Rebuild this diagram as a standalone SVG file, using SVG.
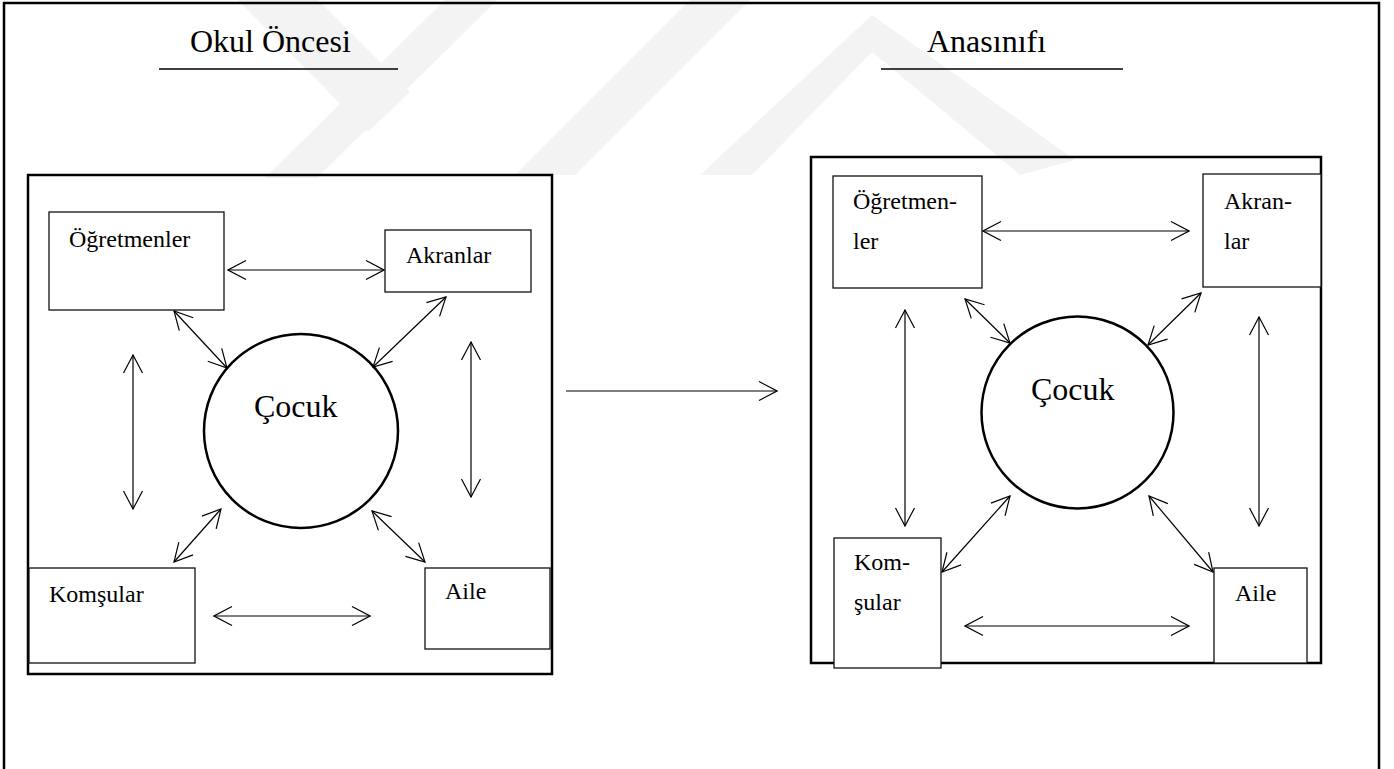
<svg xmlns="http://www.w3.org/2000/svg" width="1394" height="769" viewBox="0 0 1394 769">
<style>
.frame{fill:none;stroke:#000;stroke-width:2.5}
.panel{fill:none;stroke:#000;stroke-width:2.5}
.box{fill:#fff;stroke:#111;stroke-width:1.3}
.child{fill:#fff;stroke:#000;stroke-width:2.5}
.conn{fill:none;stroke:#000;stroke-width:1.2}
.wm{fill:#f3f3f3}
</style>
<defs>
<marker id="ah" viewBox="-1 -11 20 22" refX="18" refY="0" markerWidth="20" markerHeight="22" markerUnits="userSpaceOnUse" orient="auto-start-reverse">
<path d="M0,-9.5 L18,0 L0,9.5" fill="none" stroke="#000" stroke-width="1.2"/>
</marker>
</defs>
<rect width="1394" height="769" fill="#fff"/>
<g id="watermark">
<polygon class="wm" points="238,0 318,0 410,92 368,132"/>
<polygon class="wm" points="445,0 497,0 317,178 265,178"/>
<polygon class="wm" points="690,0 750,0 575,175 515,175"/>
<polygon class="wm" points="700,175 752,175 872,52 1020,175 1075,160 872,15"/>
</g>
<rect class="frame" x="4" y="3" width="1375" height="800"/>
<g font-family="'Liberation Serif', 'DejaVu Serif', serif" fill="#000">
<g id="titles" font-size="32">
<text x="190" y="52">Okul Öncesi</text>
<line x1="159" y1="69" x2="398" y2="69" stroke="#000" stroke-width="1.3"/>
<text x="927" y="52">Anasınıfı</text>
<line x1="881" y1="69" x2="1123" y2="69" stroke="#000" stroke-width="1.3"/>
</g>
<g id="panel-left">
<rect class="panel" x="28" y="175" width="524" height="499"/>
</g>
<g id="panel-right">
<rect class="panel" x="811" y="157" width="510" height="506"/>
</g>
<g font-size="24">
<g id="left-ogretmenler"><rect class="box" x="49" y="212" width="175" height="98"/><text x="69" y="247">Öğretmenler</text></g>
<g id="left-akranlar"><rect class="box" x="385" y="230" width="146" height="62"/><text x="406" y="263">Akranlar</text></g>
<g id="left-komsular"><rect class="box" x="29" y="568" width="166" height="95"/><text x="49" y="602">Komşular</text></g>
<g id="left-aile"><rect class="box" x="425" y="568" width="125" height="81"/><text x="445" y="599">Aile</text></g>
<g id="right-ogretmenler"><rect class="box" x="833" y="176" width="149" height="112"/><text x="853" y="209">Öğretmen-</text><text x="853" y="249">ler</text></g>
<g id="right-akranlar"><rect class="box" x="1203" y="174" width="118" height="113"/><text x="1224" y="209">Akran-</text><text x="1224" y="249">lar</text></g>
<g id="right-komsular"><rect class="box" x="834" y="538" width="107" height="130"/><text x="854" y="570">Kom-</text><text x="854" y="610">şular</text></g>
<g id="right-aile"><rect class="box" x="1214" y="568" width="93" height="95"/><text x="1235" y="601">Aile</text></g>
</g>
<g font-size="32">
<g id="left-cocuk"><circle class="child" cx="301" cy="431" r="97"/><text x="254" y="417">Çocuk</text></g>
<g id="right-cocuk"><circle class="child" cx="1077.5" cy="412.5" r="96"/><text x="1031" y="400">Çocuk</text></g>
</g>
</g>
<g id="connectors" class="conn" marker-start="url(#ah)" marker-end="url(#ah)">
<line x1="228" y1="270" x2="384" y2="270"/>
<line x1="174" y1="311" x2="227" y2="368"/>
<line x1="446" y1="297" x2="373" y2="367"/>
<line x1="133" y1="355" x2="133" y2="509"/>
<line x1="471" y1="342" x2="471" y2="497"/>
<line x1="221" y1="509" x2="174" y2="562"/>
<line x1="372" y1="511" x2="425" y2="562"/>
<line x1="214" y1="616" x2="370" y2="616"/>
<line x1="566" y1="391" x2="777" y2="391" marker-start="none"/>
<line x1="983" y1="231" x2="1189" y2="231"/>
<line x1="965" y1="299" x2="1010" y2="343"/>
<line x1="1201" y1="293" x2="1148" y2="345"/>
<line x1="905" y1="310" x2="905" y2="526"/>
<line x1="1259" y1="317" x2="1259" y2="526"/>
<line x1="1010" y1="496" x2="942" y2="572"/>
<line x1="1149" y1="496" x2="1213" y2="572"/>
<line x1="965" y1="626" x2="1189" y2="626"/>
</g>
</svg>
